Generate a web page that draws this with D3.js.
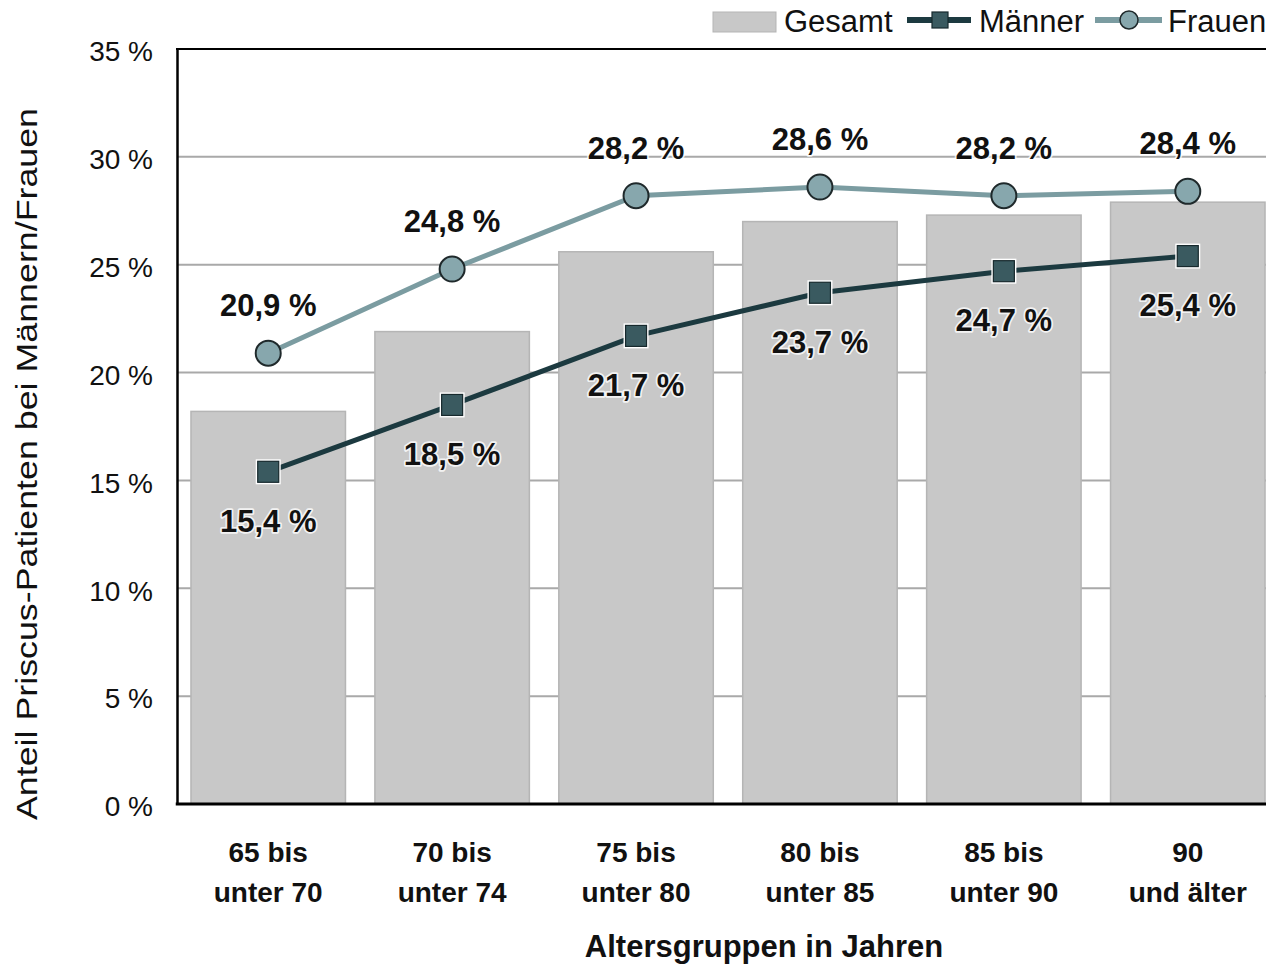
<!DOCTYPE html>
<html>
<head>
<meta charset="utf-8">
<script src="https://cdn.jsdelivr.net/npm/d3@7"></script>
<style>
  html, body { margin: 0; padding: 0; background: #fff; }
  svg { display: block; font-family: "Liberation Sans", Arial, sans-serif; }
</style>
</head>
<body>
<svg id="chart" width="1266" height="966"></svg>
<script>
const categories = [
  ["65 bis", "unter 70"],
  ["70 bis", "unter 74"],
  ["75 bis", "unter 80"],
  ["80 bis", "unter 85"],
  ["85 bis", "unter 90"],
  ["90", "und älter"]
];
const gesamt = [18.2, 21.9, 25.6, 27.0, 27.3, 27.9];
const maenner = [15.4, 18.5, 21.7, 23.7, 24.7, 25.4];
const frauen = [20.9, 24.8, 28.2, 28.6, 28.2, 28.4];
const yTicks = [0, 5, 10, 15, 20, 25, 30, 35];
const seriesNames = ["Gesamt", "Männer", "Frauen"];
const yTitle = "Anteil Priscus-Patienten bei Männern/Frauen";
const xTitle = "Altersgruppen in Jahren";

const fmt = v => v.toFixed(1).replace(".", ",") + " %";

const svg = d3.select("#chart");
const pLeft = 177, pRight = 1279, pTop = 49, pBottom = 804;

const x = d3.scaleBand()
  .domain(d3.range(categories.length))
  .range([pLeft, pRight])
  .paddingInner(0.16)
  .paddingOuter(0.076);
const y = d3.scaleLinear().domain([0, 35]).range([pBottom, pTop]);
const cx = i => x(i) + x.bandwidth() / 2;

// gridlines
svg.append("g").selectAll("line")
  .data(yTicks.filter(t => t > 0 && t < 35))
  .join("line")
  .attr("x1", pLeft).attr("x2", pRight)
  .attr("y1", d => y(d)).attr("y2", d => y(d))
  .attr("stroke", "#a9a9a9").attr("stroke-width", 2);

// bars
svg.append("g").selectAll("rect")
  .data(gesamt)
  .join("rect")
  .attr("x", (d, i) => x(i))
  .attr("y", d => y(d))
  .attr("width", x.bandwidth())
  .attr("height", d => y(0) - y(d))
  .attr("fill", "#c8c8c8")
  .attr("stroke", "#b5b5b5")
  .attr("stroke-width", 1.5);

// axes frame
const yAxis = d3.axisLeft(y).tickValues(yTicks).tickSize(0)
  .tickFormat(d => d + " %").tickPadding(24);
const gy = svg.append("g").attr("transform", `translate(${pLeft},0)`).call(yAxis);
gy.select(".domain").attr("stroke", "#000").attr("stroke-width", 2.5);
gy.selectAll("text").attr("font-size", 28).attr("fill", "#111")
  .attr("font-family", "'Liberation Sans', Arial, sans-serif")
  .attr("dy", "0.42em");

svg.append("line").attr("x1", pLeft - 1).attr("x2", pRight)
  .attr("y1", pTop).attr("y2", pTop).attr("stroke", "#000").attr("stroke-width", 2);
svg.append("line").attr("x1", pLeft - 1.25).attr("x2", pRight)
  .attr("y1", pBottom).attr("y2", pBottom).attr("stroke", "#000").attr("stroke-width", 3);

// x tick labels
const xl = svg.append("g").selectAll("text")
  .data(categories)
  .join("text")
  .attr("text-anchor", "middle")
  .attr("font-size", 28).attr("font-weight", "bold").attr("fill", "#111");
xl.append("tspan").attr("x", (d, i) => cx(i)).attr("y", 862).text(d => d[0]);
xl.append("tspan").attr("x", (d, i) => cx(i)).attr("y", 902).text(d => d[1]);

// titles
svg.append("text").attr("x", 764).attr("y", 957)
  .attr("text-anchor", "middle").attr("font-size", 31).attr("font-weight", "bold")
  .attr("fill", "#111").text(xTitle);
svg.append("text")
  .attr("transform", "translate(37,464) rotate(-90)")
  .attr("text-anchor", "middle").attr("font-size", 30).attr("fill", "#111")
  .attr("textLength", 712).attr("lengthAdjust", "spacingAndGlyphs")
  .text(yTitle);

// lines
const line = d3.line().x((d, i) => cx(i)).y(d => y(d));
svg.append("path").datum(frauen).attr("d", line)
  .attr("fill", "none").attr("stroke", "#7b9ca1").attr("stroke-width", 5);
svg.append("path").datum(maenner).attr("d", line)
  .attr("fill", "none").attr("stroke", "#1c3a40").attr("stroke-width", 5);

// markers
svg.append("g").selectAll("circle")
  .data(frauen).join("circle")
  .attr("cx", (d, i) => cx(i)).attr("cy", d => y(d)).attr("r", 12.5)
  .attr("fill", "#87a7ad").attr("stroke", "#1f292b").attr("stroke-width", 2);
const sq = svg.append("g").selectAll("g")
  .data(maenner).join("g")
  .attr("transform", (d, i) => `translate(${cx(i)},${y(d)})`);
sq.append("rect").attr("x", -12.5).attr("y", -12.5).attr("width", 25).attr("height", 25)
  .attr("fill", "#fff");
sq.append("rect").attr("x", -10.5).attr("y", -10.5).attr("width", 21).attr("height", 21)
  .attr("fill", "#3a5a60").attr("stroke", "#17292d").attr("stroke-width", 1.2);

// data labels
function labels(data, dy) {
  svg.append("g").selectAll("text")
    .data(data).join("text")
    .attr("x", (d, i) => cx(i)).attr("y", d => y(d) + dy)
    .attr("text-anchor", "middle").attr("font-size", 31).attr("font-weight", "bold")
    .attr("fill", "#111").attr("stroke", "#fff").attr("stroke-width", 3.5)
    .attr("stroke-opacity", 0.8).attr("paint-order", "stroke")
    .attr("stroke-linejoin", "round")
    .text(d => fmt(d));
}
labels(frauen, -37);
labels(maenner, 60);

// legend
const lg = svg.append("g");
lg.append("rect").attr("x", 713).attr("y", 12).attr("width", 63).attr("height", 20)
  .attr("fill", "#c8c8c8").attr("stroke", "#b5b5b5").attr("stroke-width", 1);
lg.append("text").attr("x", 784).attr("y", 32).attr("font-size", 31).attr("fill", "#111").text(seriesNames[0]);
lg.append("line").attr("x1", 907).attr("x2", 971).attr("y1", 20).attr("y2", 20)
  .attr("stroke", "#1c3a40").attr("stroke-width", 6);
lg.append("rect").attr("x", 932).attr("y", 12).attr("width", 16).attr("height", 16)
  .attr("fill", "#3a5a60").attr("stroke", "#17292d").attr("stroke-width", 1.2);
lg.append("text").attr("x", 979).attr("y", 32).attr("font-size", 31).attr("fill", "#111").text(seriesNames[1]);
lg.append("line").attr("x1", 1095).attr("x2", 1162).attr("y1", 20).attr("y2", 20)
  .attr("stroke", "#7b9ca1").attr("stroke-width", 6);
lg.append("circle").attr("cx", 1129).attr("cy", 20).attr("r", 9)
  .attr("fill", "#87a7ad").attr("stroke", "#1f292b").attr("stroke-width", 1.5);
lg.append("text").attr("x", 1168).attr("y", 32).attr("font-size", 31).attr("fill", "#111").text(seriesNames[2]);
</script>
</body>
</html>
